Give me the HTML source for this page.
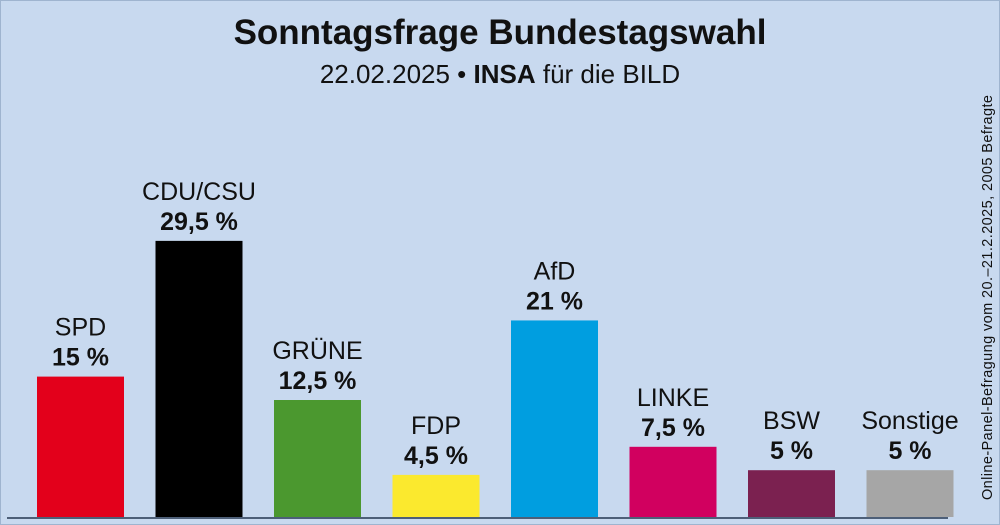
<!DOCTYPE html>
<html><head><meta charset="utf-8"><style>
body{margin:0;width:1000px;height:525px;overflow:hidden;background:#c8d9ef;font-family:"Liberation Sans",sans-serif}
svg{display:block}
</style></head><body>
<svg id="c" width="1000" height="525">
<rect x="0" y="0" width="1000" height="525" fill="#c8d9ef" stroke="#9fb4cf" stroke-width="2"/>
<text x="500" y="44" text-anchor="middle" font-size="35" font-weight="bold" fill="#111">Sonntagsfrage Bundestagswahl</text>
<text x="500" y="83" text-anchor="middle" font-size="26" fill="#111">22.02.2025 • <tspan font-weight="bold">INSA</tspan>  für die BILD</text>
<text transform="translate(992,500) rotate(-90)" font-size="14.5" fill="#111" textLength="405">Online-Panel-Befragung vom 20.–21.2.2025, 2005 Befragte</text>
<g id="bars"></g>
<line x1="7" y1="518" x2="948" y2="518" stroke="#4d5f78" stroke-width="2"/>
</svg>
<script>
const parties=["SPD","CDU/CSU","GRÜNE","FDP","AfD","LINKE","BSW","Sonstige"];
const values=[15,29.5,12.5,4.5,21,7.5,5,5];
const labels=["15 %","29,5 %","12,5 %","4,5 %","21 %","7,5 %","5 %","5 %"];
const colors=["#e3001b","#000000","#4b982f","#fbe92e","#009ee0","#d1005f","#7b2150","#a6a6a6"];
const base=517, scale=9.36, x0=37, step=118.5, bw=87;
const y=v=>base-v*scale;
const g=document.getElementById('bars');
const ns="http://www.w3.org/2000/svg";
parties.forEach((p,i)=>{
  const x=x0+i*step, top=y(values[i]);
  const r=document.createElementNS(ns,'rect');
  r.setAttribute('x',x);r.setAttribute('y',top);r.setAttribute('width',bw);r.setAttribute('height',base-top);r.setAttribute('fill',colors[i]);
  
  
  g.appendChild(r);
  const t1=document.createElementNS(ns,'text');
  t1.setAttribute('x',x+bw/2);t1.setAttribute('y',top-41);t1.setAttribute('text-anchor','middle');t1.setAttribute('font-size','25');t1.setAttribute('fill','#111');
  t1.textContent=p;
  
  
  g.appendChild(t1);
  const t2=document.createElementNS(ns,'text');
  t2.setAttribute('x',x+bw/2);t2.setAttribute('y',top-11);t2.setAttribute('text-anchor','middle');t2.setAttribute('font-size','25');t2.setAttribute('font-weight','bold');t2.setAttribute('fill','#111');
  t2.textContent=labels[i];
  
  
  g.appendChild(t2);
});
</script>
</body></html>
